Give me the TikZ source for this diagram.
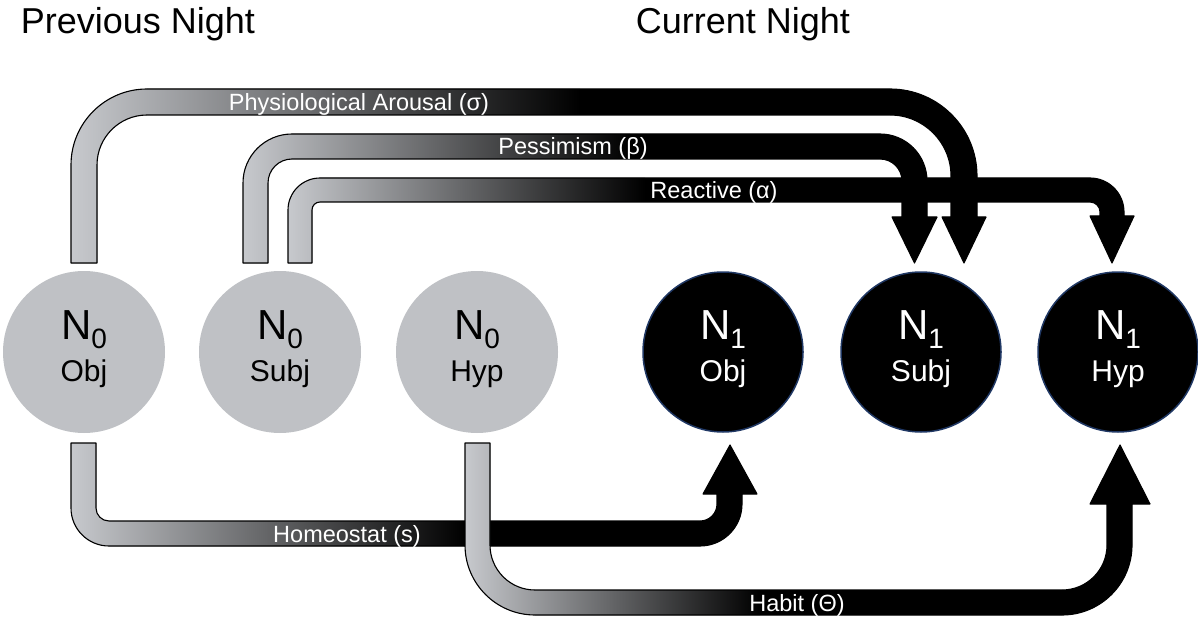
\documentclass[tikz,border=0pt]{standalone}
\usepackage{fontspec}
\setmainfont{Liberation Sans}
\usetikzlibrary{calc}
\definecolor{bandgray}{RGB}{199,201,205}
\definecolor{nodegray}{RGB}{191,193,197}
\definecolor{rimblue}{RGB}{32,56,100}
\newcommand\fs[1]{\fontsize{#1}{#1}\selectfont}
\newcommand\gband[3]{%
  \begin{scope}
    \clip #1;
    \fill[black] (0,0) rectangle (1198,620);
    \shade[left color=bandgray, right color=black] (#2,0) rectangle (#3,620);
  \end{scope}
  \draw[line width=1.1pt, black, line join=round] #1;
}
\tikzset{
  prevnode/.style={circle, fill=nodegray, minimum size=162pt, inner sep=0pt},
  currnode/.style={circle, fill=black, draw=rimblue, line width=1.5pt, minimum size=160pt, inner sep=0pt},
  bigtext/.style={font=\fs{42}, anchor=base, inner sep=0pt},
  subtext/.style={font=\fs{30}, anchor=base, inner sep=0pt},
  bandlabel/.style={font=\fs{23.5}, text=white, anchor=base, inner sep=0pt},
  titletext/.style={font=\fs{36}, anchor=base, inner sep=0pt}
}
\begin{document}
\begin{tikzpicture}[x=1pt, y=-1pt]
\useasboundingbox (0,0) rectangle (1198,620);

% titles
\node[titletext] (tprev) at (138,34) {Previous Night};
\node[titletext] (tcurr) at (743,34) {Current Night};

% Physiological Arousal band
\gband{(71,263) -- (71,165) arc[start angle=180, end angle=270, radius=76]
  -- (890,89) arc[start angle=270, end angle=360, radius=87]
  -- (977,217) -- (986,217) -- (964,263) -- (942,217) -- (951,217)
  -- (951,176) arc[start angle=0, end angle=-90, radius=61]
  -- (147,115) arc[start angle=270, end angle=180, radius=50]
  -- (97,263) -- cycle}{71}{580}

% Pessimism band
\gband{(243,263) -- (243,183) arc[start angle=180, end angle=270, radius=49]
  -- (880,134) arc[start angle=270, end angle=360, radius=47]
  -- (927,217) -- (937,217) -- (914.5,263) -- (892,217) -- (902,217)
  -- (902,181) arc[start angle=0, end angle=-90, radius=22]
  -- (292,159) arc[start angle=270, end angle=180, radius=24]
  -- (268,263) -- cycle}{243}{630}

% Reactive band
\gband{(288,263) -- (288,210) arc[start angle=180, end angle=270, radius=32]
  -- (1090,178) arc[start angle=270, end angle=360, radius=34]
  -- (1124,216) -- (1134,216) -- (1112,263) -- (1090,216) -- (1100,216)
  -- (1100,212) arc[start angle=0, end angle=-90, radius=10]
  -- (320,202) arc[start angle=270, end angle=180, radius=8]
  -- (312,263) -- cycle}{288}{645}

% Homeostat band
\gband{(71,443) -- (71,508) arc[start angle=180, end angle=90, radius=38]
  -- (700,546) arc[start angle=90, end angle=0, radius=42]
  -- (742,494) -- (757,494) -- (730,445) -- (703,494) -- (717,494)
  -- (717,504) arc[start angle=0, end angle=90, radius=17]
  -- (109,521) arc[start angle=90, end angle=180, radius=13]
  -- (96,443) -- cycle}{71}{465}

% Habit band
\gband{(465,443) -- (465,545) arc[start angle=180, end angle=90, radius=70]
  -- (1062,615) arc[start angle=90, end angle=0, radius=70]
  -- (1132,504) -- (1150,504) -- (1120,445) -- (1090,504) -- (1107,504)
  -- (1107,545) arc[start angle=0, end angle=90, radius=45]
  -- (535,590) arc[start angle=90, end angle=180, radius=45]
  -- (490,443) -- cycle}{465}{760}

% band labels
\node[bandlabel] (lphys) at (359,111) {Physiological Arousal (σ)};
\node[bandlabel] (lpess) at (573,155) {Pessimism (β)};
\node[bandlabel] (lreac) at (714,199) {Reactive (α)};
\node[bandlabel] (lhome) at (347,542) {Homeostat (s)};
\node[bandlabel] (lhab) at (797,611) {Habit (Θ)};

% previous night nodes
\node[prevnode] (pobj) at (84,352) {};
\node[prevnode] (psubj) at (280,352) {};
\node[prevnode] (phyp) at (477,352) {};
% current night nodes
\node[currnode] (cobj) at (723,352) {};
\node[currnode] (csubj) at (921,352) {};
\node[currnode] (chyp) at (1118,352) {};

% node texts
\node[bigtext] (pobjn) at ($(pobj)+(0,-13)$) {N\raisebox{-9pt}{\fs{28}0}};
\node[subtext] (pobjt) at ($(pobj)+(0,29)$) {Obj};
\node[bigtext] (psubjn) at ($(psubj)+(0,-13)$) {N\raisebox{-9pt}{\fs{28}0}};
\node[subtext] (psubjt) at ($(psubj)+(0,29)$) {Subj};
\node[bigtext] (phypn) at ($(phyp)+(0,-13)$) {N\raisebox{-9pt}{\fs{28}0}};
\node[subtext] (phypt) at ($(phyp)+(0,29)$) {Hyp};

\node[bigtext, text=white] (cobjn) at ($(cobj)+(0,-13)$) {N\raisebox{-9pt}{\fs{28}1}};
\node[subtext, text=white] (cobjt) at ($(cobj)+(0,29)$) {Obj};
\node[bigtext, text=white] (csubjn) at ($(csubj)+(0,-13)$) {N\raisebox{-9pt}{\fs{28}1}};
\node[subtext, text=white] (csubjt) at ($(csubj)+(0,29)$) {Subj};
\node[bigtext, text=white] (chypn) at ($(chyp)+(0,-13)$) {N\raisebox{-9pt}{\fs{28}1}};
\node[subtext, text=white] (chypt) at ($(chyp)+(0,29)$) {Hyp};
\end{tikzpicture}
\end{document}
